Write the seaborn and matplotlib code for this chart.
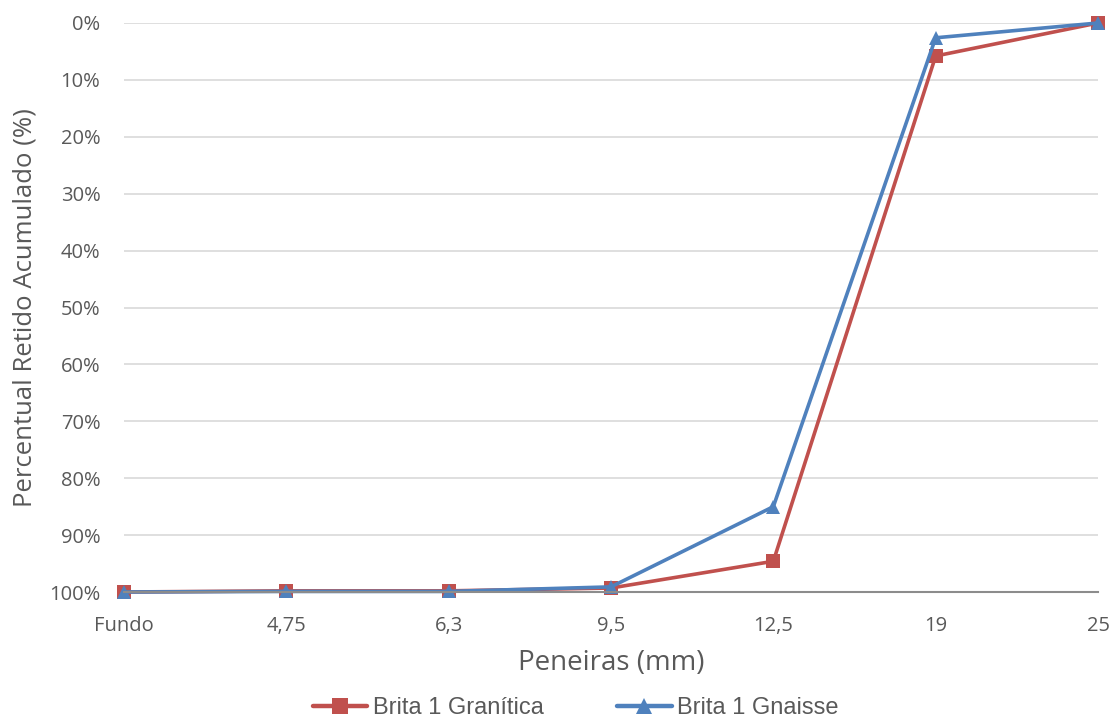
import matplotlib
matplotlib.use("Agg")
import matplotlib.pyplot as plt
import seaborn as sns
import pandas as pd
from matplotlib.ticker import FuncFormatter, MultipleLocator

categories = ["Fundo", "4,75", "6,3", "9,5", "12,5", "19", "25"]
granitica = [100.0, 99.8, 99.8, 99.3, 94.6, 5.8, 0.0]
gnaisse = [100.0, 99.9, 99.9, 99.1, 85.0, 2.6, 0.0]
series_names = ["Brita 1 Granítica", "Brita 1 Gnaisse"]

df = pd.DataFrame({
    "Peneira": categories * 2,
    "Valor": granitica + gnaisse,
    "Serie": [series_names[0]] * len(categories) + [series_names[1]] * len(categories),
})

sns.set_theme(style="white")
plt.rcParams['font.family'] = ['Open Sans', 'DejaVu Sans']
text_color = "#595959"

fig = plt.figure(figsize=(11.14, 7.2), dpi=100)
ax = fig.add_axes([124/1114, 1 - 592/720, (1098-124)/1114, (592-23)/720])

palette = {series_names[0]: "#C0504D", series_names[1]: "#4F81BD"}
markers = {series_names[0]: "s", series_names[1]: "^"}
sns.lineplot(data=df, x="Peneira", y="Valor", hue="Serie", style="Serie",
             markers=markers, dashes=False, palette=palette, linewidth=2.6,
             markersize=10, markeredgewidth=0, ax=ax, sort=False)

ax.set_ylim(100, 0)
ax.set_xlim(0, len(categories) - 1)
ax.yaxis.set_major_locator(MultipleLocator(10))
ax.yaxis.set_major_formatter(FuncFormatter(lambda v, p: f"{v:.0f}%"))
ax.grid(axis="y", color="#D9D9D9", linewidth=1.2)
ax.grid(axis="x", visible=False)
for s in ["top", "right", "left"]:
    ax.spines[s].set_visible(False)
ax.spines["bottom"].set_color("#8C8C8C")
ax.spines["bottom"].set_linewidth(1.5)
ax.spines["bottom"].set_position(("data", 100))

ax.set_xticks(range(len(categories)))
ax.set_xticklabels(categories)
ax.set_xticks([i + 0.5 for i in range(len(categories) - 1)], minor=True)
ax.tick_params(axis="x", which="both", direction="inout", length=10, width=1.2,
               color="#8C8C8C", labelsize=14.5, labelcolor=text_color, pad=12)
ax.tick_params(axis="y", length=0, labelsize=14.5, labelcolor=text_color, pad=17)

ax.set_xlabel("Peneiras (mm)", fontsize=20, color=text_color)
ax.xaxis.set_label_coords(0.5, -0.125)
ax.xaxis.label.set_va("center")
ax.set_ylabel("Percentual Retido Acumulado (%)", fontsize=18.5, color=text_color)
ax.yaxis.set_label_coords(-0.102, 0.5)
ax.yaxis.label.set_va("center")

for line in ax.lines:
    line.set_clip_on(False)

handles, labels = ax.get_legend_handles_labels()
if ax.get_legend():
    ax.get_legend().remove()
for h in handles:
    h.set_linewidth(3.2)
    h.set_markersize(11)
leg = fig.legend(handles, labels, loc="center", bbox_to_anchor=(0.517, 0.0165), ncol=2,
                 frameon=False, handlelength=2.3, handletextpad=0.25, columnspacing=3.1,
                 prop={"family": "Liberation Sans", "size": 17})
for t in leg.get_texts():
    t.set_color(text_color)

fig.savefig("out.png", dpi=100)
